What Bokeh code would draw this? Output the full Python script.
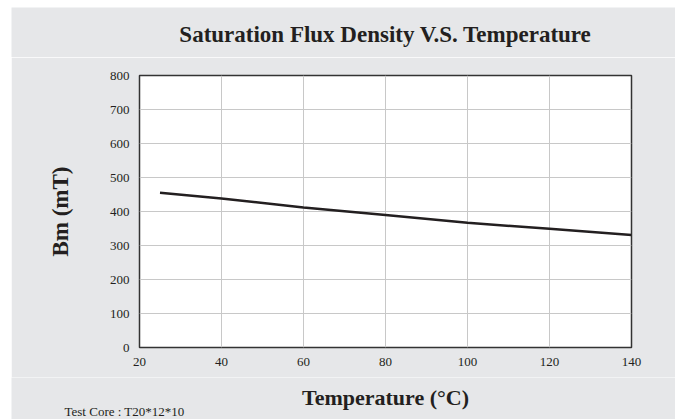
from bokeh.plotting import figure
from bokeh.models import Range1d, FixedTicker, Label
from bokeh.layouts import column
from bokeh.embed import file_html
from bokeh.resources import INLINE

# Data
temperature = [25, 40, 60, 80, 100, 120, 140]
bm = [455, 438, 412, 390, 367, 349, 331]
x_ticks = [20, 40, 60, 80, 100, 120, 140]
y_ticks = [0, 100, 200, 300, 400, 500, 600, 700, 800]
title_text = "Saturation Flux Density V.S. Temperature"
x_label = "Temperature (°C)"
y_label = "Bm (mT)"
note_text = "Test Core : T20*12*10"

FONT = "Liberation Serif"
INK = "#231f20"
BG = "#e6e7e9"


def strip(height):
    s = figure(width=664, height=height, output_backend="svg", toolbar_location=None,
               x_range=Range1d(0, 1), y_range=Range1d(0, 1),
               x_axis_type=None, y_axis_type=None,
               min_border_left=0, min_border_right=0, min_border_top=0, min_border_bottom=0)
    s.frame_align = False
    s.background_fill_color = BG
    s.border_fill_color = BG
    s.outline_line_color = None
    s.grid.visible = False
    return s


# Top strip with the chart title
t = strip(50)
t.add_layout(Label(x=374, y=26.5, x_units="canvas", y_units="canvas",
                   text=title_text, text_font=FONT, text_font_size="23px",
                   text_font_style="bold", text_color=INK,
                   text_align="center", text_baseline="middle"))

# Main chart
p = figure(width=664, height=320, output_backend="svg", toolbar_location=None,
           x_range=Range1d(20, 140), y_range=Range1d(0, 800),
           min_border_left=128, min_border_right=44, min_border_top=18, min_border_bottom=30)
p.frame_align = False
p.background_fill_color = "white"
p.border_fill_color = BG
p.outline_line_color = "#333333"
p.outline_line_width = 1.5

p.line(temperature, bm, line_color=INK, line_width=2.5)

p.xaxis.ticker = FixedTicker(ticks=x_ticks)
p.yaxis.ticker = FixedTicker(ticks=y_ticks)
for ax in (p.xaxis[0], p.yaxis[0]):
    ax.axis_line_color = None
    ax.major_tick_out = 0
    ax.major_tick_in = 0
    ax.minor_tick_out = 0
    ax.minor_tick_in = 0
    ax.major_label_text_font = FONT
    ax.major_label_text_font_size = "13px"
    ax.major_label_text_color = INK
    ax.axis_label_text_font = FONT
    ax.axis_label_text_font_style = "bold"
    ax.axis_label_text_color = INK

p.yaxis.axis_label = y_label
p.yaxis.axis_label_text_font_size = "23px"
p.xaxis.major_label_standoff = 10
p.yaxis.major_label_standoff = 10
p.yaxis.axis_label_standoff = 34

p.xgrid.grid_line_color = "#c8c8c8"
p.ygrid.grid_line_color = "#c8c8c8"
p.xgrid.grid_line_width = 1
p.ygrid.grid_line_width = 1

# Bottom strip with the x-axis title and the test-core note
q = strip(42)
q.add_layout(Label(x=374, y=20, x_units="canvas", y_units="canvas",
                   text=x_label, text_font=FONT, text_font_size="22px",
                   text_font_style="bold", text_color=INK,
                   text_align="center", text_baseline="middle"))
q.add_layout(Label(x=53, y=33.5, x_units="canvas", y_units="canvas",
                   text=note_text, text_font=FONT, text_font_size="13px",
                   text_color=INK, text_align="left", text_baseline="middle"))

layout = column(t, p, q, spacing=0, margin=(7, 0, 0, 11))

open("out.html", "w").write(file_html(layout, INLINE))
